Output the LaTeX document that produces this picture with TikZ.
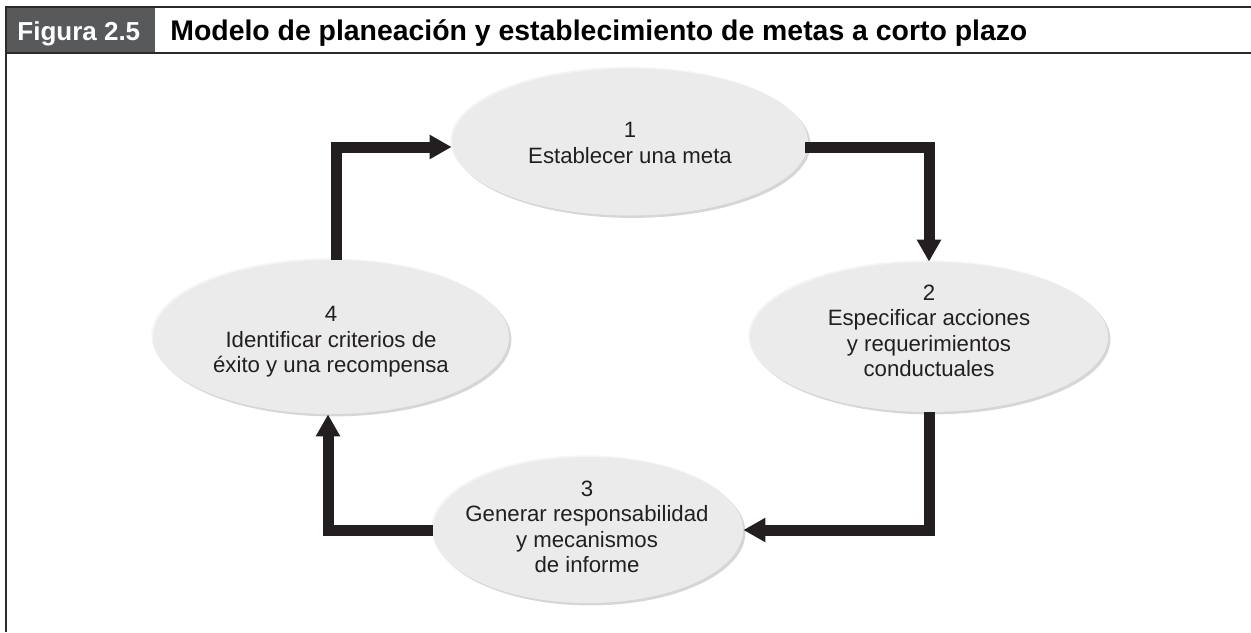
\documentclass[tikz,border=0pt]{standalone}
\usepackage{fontspec}
\setmainfont{Liberation Sans}
\usetikzlibrary{arrows.meta,shapes.geometric,calc}
\definecolor{ink}{HTML}{231F20}
\definecolor{hdr}{HTML}{58595B}
\definecolor{elfill}{HTML}{EBEBEB}
\definecolor{elrimlight}{HTML}{F5F5F5}
\definecolor{elrimdark}{HTML}{D5D6D8}
\definecolor{framecol}{HTML}{2B2B2B}
\begin{document}
\begin{tikzpicture}[x=0.5pt,y=-0.5pt,
  stage/.style={ellipse, inner sep=0pt, fill=elfill,
    preaction={fill=elrimdark, transform canvas={xshift=1.2pt,yshift=-1.2pt}},
    preaction={fill=elrimlight, transform canvas={xshift=-0.8pt,yshift=0.8pt}}},
  stagetext/.style={inner sep=0pt, text=ink, align=center,
    font=\fontsize{11.1}{12.7}\selectfont},
  flow/.style={draw=ink, line width=5.5pt, line join=miter,
    -{Triangle[length=11pt,width=11.5pt]}},
  rule/.style={draw=framecol, line width=1.3pt},
  hdrtext/.style={anchor=base west, inner sep=0pt, font=\bfseries\fontsize{13}{15}\selectfont}
]
\useasboundingbox (0,0) rectangle (1251,632);
% header
\fill[hdr] (6,7) rectangle (155,53);
\draw[rule] (5,7) -- (1251,7);
\draw[rule] (5,53) -- (1251,53);
\draw[rule] (6,6.4) -- (6,632);
\node[hdrtext, text=white] (fig) at (17,40.5) {Figura 2.5};
\node[hdrtext, text=black, font=\bfseries\fontsize{14.2}{16}\selectfont] (title) at (170,40.5)
  {Modelo de planeación y establecimiento de metas a corto plazo};
% stages
\node[stage, minimum width=178pt, minimum height=73.5pt] (e1) at (630,142) {};
\node[stage, minimum width=179pt, minimum height=75pt] (e2) at (929,337) {};
\node[stage, minimum width=155pt, minimum height=73pt] (e3) at (588,530) {};
\node[stage, minimum width=178pt, minimum height=77pt] (e4) at (331,337) {};
\node[stagetext] (t1) at ($(e1)+(0,1)$) {1\\Establecer una meta};
\node[stagetext] (t2) at ($(e2)+(0,-6)$) {2\\Especificar acciones\\y requerimientos\\conductuales};
\node[stagetext] (t3) at ($(e3)+(-1,-3)$) {3\\Generar responsabilidad\\y mecanismos\\de informe};
\node[stagetext] (t4) at ($(e4)+(0,5)$) {4\\Identificar criterios de\\éxito y una recompensa};
% connectors
\draw[flow] ($(e1.east)+(-3,5)$) -| (e2.north);
\draw[flow] (e2.south) |- (e3.east);
\draw[flow] (e3.west) -| ($(e4.south)+(-3,0)$);
\draw[flow] ($(e4.north)+(5,0)$) |- ($(e1.west)+(0,5)$);
\end{tikzpicture}
\end{document}
